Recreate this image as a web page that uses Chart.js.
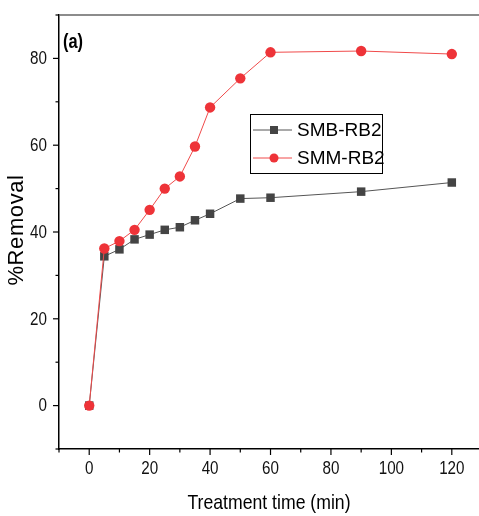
<!DOCTYPE html>
<html>
<head>
<meta charset="utf-8">
<script src="https://cdn.jsdelivr.net/npm/chart.js@4.4.1/dist/chart.umd.min.js"></script>
<style>
  html, body { margin: 0; padding: 0; background: #fff; overflow: hidden; }
  #wrap { position: relative; width: 479px; height: 516px; }
</style>
</head>
<body>
<div id="wrap"><canvas id="c" width="479" height="516"></canvas></div>
<script>
// ---- data ----
const times = [0, 5, 10, 15, 20, 25, 30, 35, 40, 50, 60, 90, 120];
const smbRB2 = [0, 34.4, 36.0, 38.3, 39.4, 40.5, 41.1, 42.7, 44.2, 47.7, 47.9, 49.3, 51.4];
const smmRB2 = [0, 36.2, 37.9, 40.5, 45.1, 50.0, 52.8, 59.7, 68.7, 75.4, 81.4, 81.7, 81.0];
const seriesNames = ['SMB-RB2', 'SMM-RB2'];
const xLabelValues = [0, 20, 40, 60, 80, 100, 120];
const yLabelValues = [0, 20, 40, 60, 80];
const panelLabel = '(a)';
const xTitle = 'Treatment time (min)';
const yTitle = '%Removal';

const REG = '"Liberation Sans", Arial, sans-serif';

const toPts = (xs, ys) => xs.map((x, i) => ({ x: x, y: ys[i] }));

// draw condensed text (Arial Narrow look) by horizontal scaling
function narrowText(ctx, text, x, y, sx, align) {
  ctx.save();
  ctx.translate(x, y);
  ctx.scale(sx, 1);
  ctx.textAlign = align;
  ctx.fillText(text, 0, 0);
  ctx.restore();
}

const decor = {
  id: 'decor',
  afterDraw(chart) {
    const ctx = chart.ctx;
    const ca = chart.chartArea;
    const xs = chart.scales.x, ys = chart.scales.y;
    ctx.save();
    // top border
    ctx.strokeStyle = '#666';
    ctx.lineWidth = 1.5;
    ctx.beginPath();
    ctx.moveTo(ca.left, ca.top);
    ctx.lineTo(ca.right, ca.top);
    ctx.stroke();
    // ticks
    ctx.strokeStyle = '#000';
    ctx.lineWidth = 1.2;
    for (let v = -10; v <= 130; v += 10) {
      const px = xs.getPixelForValue(v);
      if (px < ca.left - 1 || px > ca.right + 1) continue;
      const len = (v % 20 === 0) ? 6 : 3.5;
      ctx.beginPath();
      ctx.moveTo(px, ca.bottom);
      ctx.lineTo(px, ca.bottom + len);
      ctx.stroke();
    }
    for (let v = -10; v <= 90; v += 10) {
      const py = ys.getPixelForValue(v);
      if (py < ca.top - 1 || py > ca.bottom + 1) continue;
      const len = (v % 20 === 0) ? 6 : 3.5;
      ctx.beginPath();
      ctx.moveTo(ca.left, py);
      ctx.lineTo(ca.left - len, py);
      ctx.stroke();
    }
    // tick labels
    ctx.fillStyle = '#111';
    ctx.font = '19px ' + REG;
    ctx.textBaseline = 'middle';
    xs.ticks.forEach(t => {
      narrowText(ctx, String(t.value), xs.getPixelForValue(t.value), ca.bottom + 20, 0.8, 'center');
    });
    ys.ticks.forEach(t => {
      narrowText(ctx, String(t.value), ca.left - 12, ys.getPixelForValue(t.value) + 0.5, 0.8, 'right');
    });
    // axis titles
    ctx.fillStyle = '#000';
    ctx.font = '21px ' + REG;
    narrowText(ctx, xTitle, (ca.left + ca.right) / 2, 503, 0.84, 'center');
    ctx.save();
    ctx.translate(17, (ca.top + ca.bottom) / 2 - 2);
    ctx.rotate(-Math.PI / 2);
    ctx.font = '22px ' + REG;
    if ('letterSpacing' in ctx) ctx.letterSpacing = '0.6px';
    ctx.textAlign = 'center';
    ctx.fillText(yTitle, 0, 0);
    ctx.restore();

    // panel label
    ctx.fillStyle = '#000';
    ctx.font = 'bold 20px ' + REG;
    ctx.textBaseline = 'middle';
    narrowText(ctx, panelLabel, 63, 42, 0.82, 'left');

    // legend box
    const bx = 250, by = 114, bw = 132, bh = 59;
    ctx.fillStyle = '#fff';
    ctx.fillRect(bx, by, bw, bh);
    ctx.strokeStyle = '#000';
    ctx.lineWidth = 1;
    ctx.strokeRect(bx + 0.5, by + 0.5, bw, bh);
    const order = [1, 0];
    const rowsY = [130, 158];
    order.forEach((di, r) => {
      const ds = chart.data.datasets[di];
      const y = rowsY[r];
      ctx.strokeStyle = ds.borderColor;
      ctx.lineWidth = 1;
      ctx.beginPath();
      ctx.moveTo(253, y);
      ctx.lineTo(292, y);
      ctx.stroke();
      ctx.fillStyle = ds.pointBackgroundColor;
      if (ds.pointStyle === 'rect') {
        ctx.fillRect(274 - 4, y - 4, 8, 8);
      } else {
        ctx.beginPath();
        ctx.arc(274, y, 4.5, 0, Math.PI * 2);
        ctx.fill();
      }
      ctx.fillStyle = '#000';
      ctx.font = '19px ' + REG;
      ctx.textAlign = 'left';
      ctx.textBaseline = 'middle';
      ctx.fillText(ds.label, 297, y + 1);
    });
    ctx.restore();
  }
};

new Chart(document.getElementById('c'), {
  type: 'line',
  data: {
    datasets: [
      {
        label: seriesNames[1],
        data: toPts(times, smmRB2),
        borderColor: '#f04a4a',
        backgroundColor: '#ee3338',
        pointBackgroundColor: '#ee3338',
        pointBorderColor: '#ee3338',
        pointBorderWidth: 0,
        pointStyle: 'circle',
        pointRadius: 5.2,
        borderWidth: 1,
        tension: 0,
        order: 0
      },
      {
        label: seriesNames[0],
        data: toPts(times, smbRB2),
        borderColor: '#555555',
        backgroundColor: '#444444',
        pointBackgroundColor: '#444444',
        pointBorderColor: '#444444',
        pointBorderWidth: 0,
        pointStyle: 'rect',
        pointRadius: 6,
        borderWidth: 1,
        tension: 0,
        order: 1
      }
    ]
  },
  options: {
    responsive: false,
    animation: false,
    devicePixelRatio: 1,
    layout: { autoPadding: false, padding: { top: 15, right: 0, left: 0, bottom: 0 } },
    plugins: { legend: { display: false }, tooltip: { enabled: false } },
    scales: {
      x: {
        type: 'linear',
        min: -10,
        max: 129,
        afterFit(s) { s.height = 67; s.paddingLeft = 0; s.paddingRight = 0; },
        afterBuildTicks(s) { s.ticks = xLabelValues.map(v => ({ value: v })); },
        grid: { display: false, drawTicks: false },
        border: { display: true, color: '#000', width: 1.5 },
        ticks: { display: false, autoSkip: false }
      },
      y: {
        type: 'linear',
        min: -10,
        max: 90,
        afterFit(s) { s.width = 59; s.paddingTop = 0; s.paddingBottom = 0; },
        afterBuildTicks(s) { s.ticks = yLabelValues.map(v => ({ value: v })); },
        grid: { display: false, drawTicks: false },
        border: { display: true, color: '#000', width: 1.5 },
        ticks: { display: false, autoSkip: false }
      }
    }
  },
  plugins: [decor]
});
</script>
</body>
</html>
